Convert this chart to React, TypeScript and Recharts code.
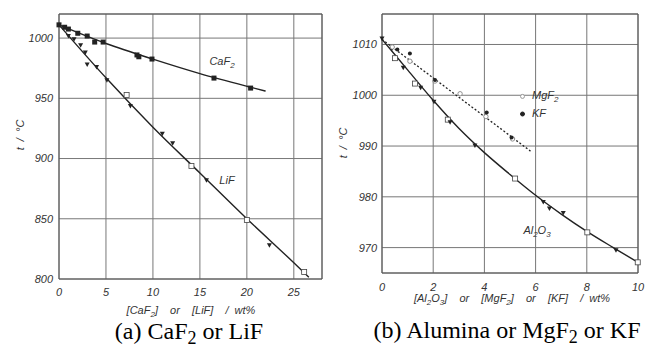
import { ComposedChart, Line, Scatter, XAxis, YAxis, CartesianGrid, ReferenceArea } from "recharts";

// (a) CaF2 or LiF
const caf2Points = [
  { x: 0, t: 1011 }, { x: 0.6, t: 1009 }, { x: 1, t: 1007.5 }, { x: 2, t: 1004 },
  { x: 3, t: 1001.7 }, { x: 3.8, t: 996.7 }, { x: 4.7, t: 996.7 }, { x: 8.3, t: 986 },
  { x: 8.5, t: 984.5 }, { x: 9.9, t: 982.6 }, { x: 16.5, t: 966.8 }, { x: 20.4, t: 958.5 },
];
const caf2Fit = [
  { x: 0, t: 1011 }, { x: 5, t: 995.5 }, { x: 10, t: 982.5 }, { x: 15, t: 970.5 },
  { x: 20, t: 960 }, { x: 22, t: 956 },
];
const lifTriangles = [
  { x: 1, t: 1001.7 }, { x: 1.6, t: 999 }, { x: 2.3, t: 994 }, { x: 2.8, t: 988 },
  { x: 3, t: 978 }, { x: 4, t: 976 }, { x: 5.1, t: 965 }, { x: 7.6, t: 943.6 },
  { x: 11, t: 920.5 }, { x: 12.1, t: 912.8 }, { x: 15.7, t: 882 }, { x: 22.4, t: 828 },
];
const lifSquares = [
  { x: 7.2, t: 952.7 }, { x: 14.1, t: 893.8 }, { x: 20, t: 849 }, { x: 26.1, t: 805.8 },
];
const lifFit = [
  { x: 0, t: 1011 }, { x: 5, t: 967 }, { x: 10, t: 926 }, { x: 15, t: 888 },
  { x: 20, t: 850 }, { x: 25, t: 813.5 }, { x: 26.6, t: 801.5 },
];
const ticksA = [0, 5, 10, 15, 20, 25];
const tempTicksA = [800, 850, 900, 950, 1000];

// (b) Alumina or MgF2 or KF
const aluSquares = [
  { x: 0.51, t: 1007.3 }, { x: 1.29, t: 1002.3 }, { x: 2.57, t: 995.2 },
  { x: 5.2, t: 983.6 }, { x: 8.02, t: 973 }, { x: 9.99, t: 967.1 },
];
const aluFilled = [
  { x: 0, t: 1011.2 }, { x: 0.38, t: 1009.1 }, { x: 0.83, t: 1005.4 }, { x: 1.51, t: 1001.5 },
  { x: 2.03, t: 998.7 }, { x: 2.66, t: 994.7 }, { x: 3.63, t: 990.1 }, { x: 6.3, t: 979 },
  { x: 6.54, t: 977.7 }, { x: 7.08, t: 976.8 }, { x: 9.14, t: 969.5 },
];
const aluFit = [
  { x: 0, t: 1011 }, { x: 1, t: 1005 }, { x: 2, t: 999 }, { x: 3, t: 993.5 },
  { x: 4, t: 988.7 }, { x: 5, t: 984.4 }, { x: 6, t: 980.3 }, { x: 7, t: 976.6 },
  { x: 8, t: 973.2 }, { x: 9, t: 970.1 }, { x: 10, t: 967.1 },
];
const mgf2Points = [
  { x: 0.4, t: 1009.5 }, { x: 1.09, t: 1006.7 }, { x: 2.07, t: 1002.8 },
  { x: 3.05, t: 1000.3 }, { x: 4.06, t: 995.8 }, { x: 5.1, t: 991.4 },
];
const kfPoints = [
  { x: 0.6, t: 1009 }, { x: 1.09, t: 1008.2 }, { x: 2.07, t: 1003 },
  { x: 4.09, t: 996.6 }, { x: 5.06, t: 991.7 },
];
const fluorideFit = [{ x: 0, t: 1011 }, { x: 5.8, t: 989 }];
const ticksB = [0, 2, 4, 6, 8, 10];
const tempTicksB = [970, 980, 990, 1000, 1010];

const ink = "#222";
const sans = "Liberation Sans, Arial, sans-serif";
const tickStyle = { fontFamily: sans, fontSize: 11, fontStyle: "italic" as const, fill: "#333" };

const FilledSquare = (p: any) => <rect x={p.cx - 2.5} y={p.cy - 2.5} width={5} height={5} fill={ink} />;
const OpenSquare = (p: any) => <rect x={p.cx - 2.5} y={p.cy - 2.5} width={5} height={5} fill="#fff" stroke="#444" strokeWidth={0.8} />;
const Triangle = (p: any) => (
  <path d={`M${p.cx - 2.5},${p.cy - 2} L${p.cx + 2.5},${p.cy - 2} L${p.cx},${p.cy + 2.5} Z`} fill={ink} />
);
const OpenCircle = (p: any) => <circle cx={p.cx} cy={p.cy} r={2.2} fill="#fff" stroke="#777" strokeWidth={0.8} />;
const Dot = (p: any) => <circle cx={p.cx} cy={p.cy} r={2} fill={ink} />;

const Sub = ({ children, size = 8 }: any) => <sub style={{ fontSize: size }}>{children}</sub>;

const Txt = ({ x, y, children, size = 11, serif = false, rotate = false, italic = true, anchor = "center", spacing = 0 }: any) => (
  <div
    style={{
      position: "absolute",
      left: x,
      top: y,
      transform: `translate(${anchor === "start" ? "0" : "-50%"}, -50%)${rotate ? " rotate(-90deg)" : ""}`,
      fontFamily: serif ? "Liberation Serif, Times New Roman, serif" : sans,
      fontStyle: italic ? "italic" : "normal",
      fontSize: size,
      color: serif ? "#000" : "#333",
      whiteSpace: "pre",
      wordSpacing: spacing,
      lineHeight: 1,
    }}
  >
    {children}
  </div>
);

const LegendMark = ({ filled }: any) => (
  <span
    style={{
      display: "inline-block",
      boxSizing: "border-box",
      width: 5,
      height: 5,
      borderRadius: "50%",
      background: filled ? ink : "#fff",
      border: filled ? `1px solid ${ink}` : "1px solid #999",
      marginRight: 7,
      verticalAlign: "middle",
    }}
  />
);

export default function App() {
  return (
    <div style={{ position: "absolute", left: 0, top: 0, width: 646, height: 348, background: "#fff" }}>
      <div style={{ position: "absolute", left: 0, top: 0 }}>
        <ComposedChart width={330} height={300} margin={{ top: 14, right: 8, bottom: 0, left: 0 }}>
          <CartesianGrid stroke="#777" strokeWidth={1} />
          <XAxis dataKey="x" type="number" domain={[0, 28]} ticks={ticksA} tickLine={false} tickSize={0} tickMargin={9} axisLine={false} height={21} tick={tickStyle} />
          <YAxis dataKey="t" type="number" domain={[800, 1020]} ticks={tempTicksA} tickLine={false} tickSize={0} tickMargin={6} axisLine={false} width={59} tick={tickStyle} />
          <ReferenceArea x1={0} x2={28} y1={800} y2={1020} fill="none" stroke="#555" strokeWidth={1} />
          <Line data={caf2Fit} dataKey="t" type="monotone" stroke={ink} strokeWidth={1.4} dot={false} isAnimationActive={false} />
          <Line data={lifFit} dataKey="t" type="monotone" stroke={ink} strokeWidth={1.4} dot={false} isAnimationActive={false} />
          <Scatter data={caf2Points} dataKey="t" shape={FilledSquare} isAnimationActive={false} />
          <Scatter data={lifTriangles} dataKey="t" shape={Triangle} isAnimationActive={false} />
          <Scatter data={lifSquares} dataKey="t" shape={OpenSquare} isAnimationActive={false} />
        </ComposedChart>
      </div>
      <div style={{ position: "absolute", left: 330, top: 0 }}>
        <ComposedChart width={316} height={300} margin={{ top: 14, right: 8, bottom: 0, left: 0 }}>
          <CartesianGrid stroke="#777" strokeWidth={1} />
          <XAxis dataKey="x" type="number" domain={[0, 10]} ticks={ticksB} tickLine={false} tickSize={0} tickMargin={10} axisLine={false} height={27} tick={tickStyle} />
          <YAxis dataKey="t" type="number" domain={[965, 1016]} ticks={tempTicksB} tickLine={false} tickSize={0} tickMargin={5} axisLine={false} width={52} tick={tickStyle} />
          <ReferenceArea x1={0} x2={10} y1={965} y2={1016} fill="none" stroke="#555" strokeWidth={1} />
          <Line data={aluFit} dataKey="t" type="monotone" stroke={ink} strokeWidth={1.4} dot={false} isAnimationActive={false} />
          <Line data={fluorideFit} dataKey="t" type="linear" stroke={ink} strokeWidth={1.3} strokeDasharray="2 2" dot={false} isAnimationActive={false} />
          <Scatter data={aluSquares} dataKey="t" shape={OpenSquare} isAnimationActive={false} />
          <Scatter data={aluFilled} dataKey="t" shape={Triangle} isAnimationActive={false} />
          <Scatter name="MgF2" data={mgf2Points} dataKey="t" shape={OpenCircle} isAnimationActive={false} />
          <Scatter name="KF" data={kfPoints} dataKey="t" shape={Dot} isAnimationActive={false} />
        </ComposedChart>
      </div>

      <Txt x={222} y={63}>CaF<Sub>2</Sub></Txt>
      <Txt x={227} y={180}>LiF</Txt>
      <Txt x={537} y={232}>Al<Sub>2</Sub>O<Sub>3</Sub></Txt>

      {/* legend for the dotted line */}
      <Txt x={520} y={97} anchor="start"><LegendMark />MgF<Sub>2</Sub></Txt>
      <Txt x={520} y={113} anchor="start"><LegendMark filled />KF</Txt>

      <Txt x={20} y={135} rotate>t  /  °C</Txt>
      <Txt x={343} y={143} rotate>t  /  °C</Txt>

      <Txt x={191} y={312} spacing={3}>[CaF<Sub>2</Sub>]  or  [LiF]  / wt%</Txt>
      <Txt x={512} y={300} spacing={3}>[Al<Sub>2</Sub>O<Sub>3</Sub>]  or  [MgF<Sub>2</Sub>]  or  [KF]  / wt%</Txt>

      <Txt x={189} y={333} size={24} serif italic={false}>(a) CaF<Sub size={18}>2</Sub> or LiF</Txt>
      <Txt x={507} y={332} size={24} serif italic={false}>(b) Alumina or MgF<Sub size={18}>2</Sub> or KF</Txt>
    </div>
  );
}
